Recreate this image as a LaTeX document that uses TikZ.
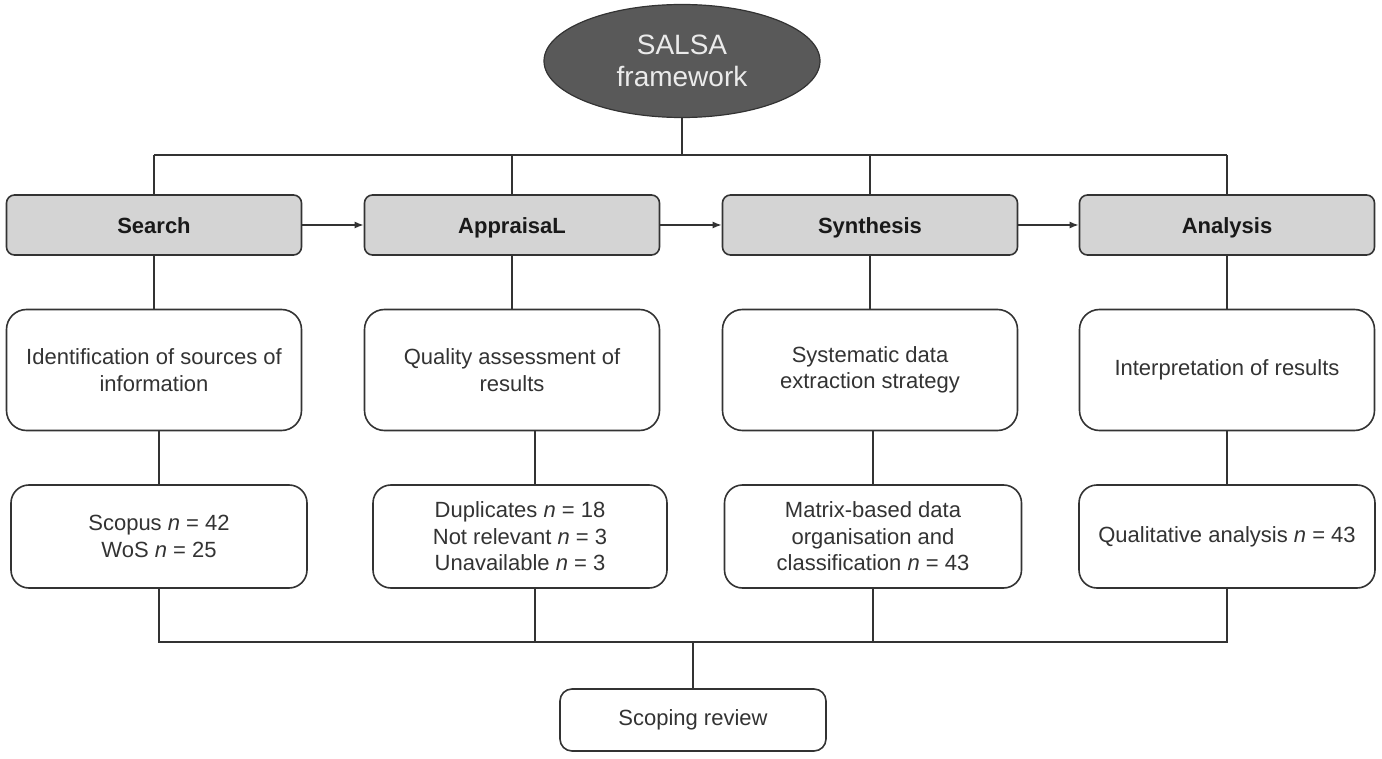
\documentclass[tikz,border=0pt]{standalone}
\usepackage{fontspec}
\setmainfont{Liberation Sans}
\usetikzlibrary{shapes.geometric,arrows.meta}
\definecolor{stagegray}{HTML}{D4D4D4}
\definecolor{ovalgray}{HTML}{595959}
\definecolor{inkgray}{HTML}{333333}
\tikzset{
	stage/.style={draw=inkgray, fill=stagegray, line width=1.6pt, rounded corners=8pt, minimum width=295pt, minimum height=60pt, text height=17pt, text depth=0pt, font=\fontsize{22}{26}\selectfont\bfseries, text=black!90},
	task/.style={draw=inkgray, fill=white, line width=1.6pt, rounded corners=20pt, minimum width=295pt, minimum height=121pt, align=center, font=\fontsize{22}{26.5}\selectfont, text=inkgray},
	result/.style={task, rounded corners=18pt, minimum height=103pt},
	link/.style={draw=inkgray, line width=1.6pt},
}
\begin{document}
\begin{tikzpicture}[x=1pt, y=-1pt]
				\def\colA{154}
				\def\colB{512}
				\def\colC{870}
				\def\colD{1227}
				\def\rowtop{225}
				\def\rowtask{370}
				\def\rowres{536.5}

				\useasboundingbox (0, 0) rectangle (1382, 759) ;

				\node[ellipse, draw=inkgray, fill=ovalgray, line width=1.2pt, minimum width=276pt, minimum height=113pt, align=center, text=white!92!black, font=\fontsize{28}{32}\selectfont] (salsa) at (682, 61) {SALSA\\framework} ;

				\node[stage] (search) at (\colA, \rowtop) {Search} ;
				\node[stage] (appraisal) at (\colB, \rowtop) {AppraisaL} ;
				\node[stage] (synthesis) at (\colC, \rowtop) {Synthesis} ;
				\node[stage] (analysis) at (\colD, \rowtop) {Analysis} ;

				\node[task] (idsrc) at (\colA, \rowtask) {Identification of sources of\\information} ;
				\node[task] (quality) at (\colB, \rowtask) {Quality assessment of\\results} ;
				\node[task] (extract) at (\colC, \rowtask) {Systematic data\\extraction strategy} ;
				\node[task] (interp) at (\colD, \rowtask) {Interpretation of results} ;

				\node[result, minimum width=296pt] (scopus) at (159, \rowres) {Scopus \textit{n} = 42\\WoS \textit{n} = 25} ;
				\node[result, minimum width=294pt] (dupl) at (520, \rowres) {Duplicates \textit{n} = 18\\Not relevant \textit{n} = 3\\Unavailable \textit{n} = 3} ;
				\node[result, minimum width=297pt] (matrix) at (873, \rowres) {Matrix-based data\\organisation and\\classification \textit{n} = 43} ;
				\node[result, minimum width=296pt] (qual) at (\colD, \rowres) {Qualitative analysis \textit{n} = 43} ;

				\node[task, rounded corners=12pt, minimum width=266pt, minimum height=62pt] (review) at (693, 720) {Scoping review} ;

				\coordinate (spine) at (682, 155) ;
				\coordinate (sink) at (693, 642) ;

				\draw[link] (salsa) -- (spine) ;
				\draw[link] (search.north |- spine) -- (analysis.north |- spine) ;
				\foreach \s/\t in {search/idsrc, appraisal/quality, synthesis/extract, analysis/interp} {
					\draw[link] (\s.north) -- (\s.north |- spine) ;
					\draw[link] (\s) -- (\t) ;
				}
				\foreach \a/\b in {search/appraisal, appraisal/synthesis, synthesis/analysis}
					\draw[link, -{Latex[length=9pt, width=7pt]}] (\a) -- (\b) ;

				\draw[link] (scopus.north) -- (scopus.north |- idsrc.south) ;
				\draw[link] ([xshift=15pt]dupl.north) -- ([xshift=15pt]dupl.north |- quality.south) ;
				\draw[link] (matrix.north) -- (matrix.north |- extract.south) ;
				\draw[link] (interp) -- (qual) ;

				\draw[link] (scopus.south) |- (qual.south |- sink) -- (qual.south) ;
				\draw[link] ([xshift=15pt]dupl.south) -- ([xshift=15pt]dupl.south |- sink) ;
				\draw[link] (matrix.south) -- (matrix.south |- sink) ;
				\draw[link] (sink) -- (review) ;
\end{tikzpicture}
\end{document}
